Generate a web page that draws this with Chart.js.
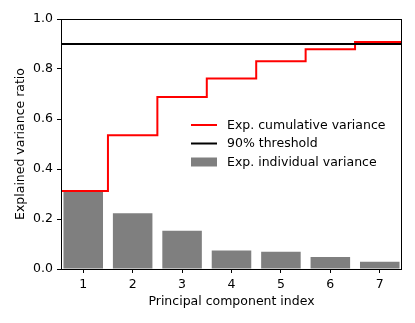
<!DOCTYPE html>
<html>
<head>
<meta charset="utf-8">
<script src="https://cdn.jsdelivr.net/npm/chart.js@4/dist/chart.umd.min.js"></script>
<style>
html,body{margin:0;padding:0;background:#fff;}
canvas{display:block;}
</style>
</head>
<body>
<canvas id="c" width="415" height="323"></canvas>
<script>
const categories = [1, 2, 3, 4, 5, 6, 7];
const individualVariance = [0.312, 0.223, 0.153, 0.074, 0.069, 0.048, 0.029];
const cumulativeVariance = [0.312, 0.535, 0.688, 0.762, 0.831, 0.879, 0.908];
const threshold = 0.9;
const yTicks = [0.0, 0.2, 0.4, 0.6, 0.8, 1.0];
const legendLabels = ['Exp. cumulative variance', '90% threshold', 'Exp. individual variance'];
const xLimits = [0.55, 7.45];

const FONT_SIZE = 12.5;
Chart.defaults.font.family = "'DejaVu Sans', sans-serif";
Chart.defaults.font.size = FONT_SIZE;
Chart.defaults.color = '#000';

const barPoints = categories.map((c, i) => ({x: c, y: individualVariance[i]}));
const stepPoints = [{x: xLimits[0], y: cumulativeVariance[0]}]
  .concat(categories.map((c, i) => ({x: c, y: cumulativeVariance[i]})))
  .concat([{x: xLimits[1], y: cumulativeVariance[cumulativeVariance.length - 1]}]);
const thresholdPoints = [{x: xLimits[0], y: threshold}, {x: xLimits[1], y: threshold}];

const BAR_COLOR = 'rgba(0,0,0,0.5)';

const framePlugin = {
  id: 'frame',
  afterDraw(chart) {
    const {ctx, chartArea: a} = chart;
    ctx.save();
    ctx.strokeStyle = '#000';
    ctx.lineWidth = 1;
    ctx.strokeRect(Math.round(a.left) + 0.5, Math.round(a.top) + 0.5,
                   Math.round(a.right - a.left) - 1, Math.round(a.bottom - a.top));
    ctx.restore();
  }
};

const legendPlugin = {
  id: 'innerLegend',
  afterDraw(chart) {
    const {ctx, chartArea: a} = chart;
    const x0 = a.left + 130, x1 = x0 + 26, tx = x0 + 36;
    const rows = [a.top + 106, a.top + 124.5, a.top + 143];
    ctx.save();
    ctx.font = FONT_SIZE + "px 'DejaVu Sans', sans-serif";
    ctx.textBaseline = 'middle';
    ctx.fillStyle = '#000';
    ctx.strokeStyle = '#ff0000'; ctx.lineWidth = 2;
    ctx.beginPath(); ctx.moveTo(x0, rows[0]); ctx.lineTo(x1, rows[0]); ctx.stroke();
    ctx.strokeStyle = '#000'; ctx.lineWidth = 2;
    ctx.beginPath(); ctx.moveTo(x0, rows[1]); ctx.lineTo(x1, rows[1]); ctx.stroke();
    ctx.fillStyle = BAR_COLOR;
    ctx.fillRect(x0, rows[2] - 4.5, x1 - x0, 9);
    ctx.fillStyle = '#000';
    legendLabels.forEach((t, i) => ctx.fillText(t, tx, rows[i] + 0.5));
    ctx.restore();
  }
};

new Chart(document.getElementById('c'), {
  type: 'bar',
  data: {
    datasets: [
      {
        type: 'line',
        label: legendLabels[1],
        data: thresholdPoints,
        borderColor: '#000',
        borderWidth: 2,
        pointRadius: 0,
        fill: false,
        order: 0
      },
      {
        type: 'line',
        label: legendLabels[0],
        data: stepPoints,
        borderColor: '#ff0000',
        borderWidth: 2,
        pointRadius: 0,
        stepped: 'middle',
        fill: false,
        order: 1
      },
      {
        type: 'bar',
        label: legendLabels[2],
        data: barPoints,
        backgroundColor: BAR_COLOR,
        borderWidth: 0,
        categoryPercentage: 1.0,
        barPercentage: 0.8,
        order: 2
      }
    ]
  },
  options: {
    responsive: false,
    animation: false,
    layout: {padding: {top: 19, right: 13, left: 0, bottom: 0}},
    plugins: {legend: {display: false}, tooltip: {enabled: false}},
    scales: {
      x: {
        type: 'linear',
        min: xLimits[0],
        max: xLimits[1],
        offset: false,
        afterBuildTicks(scale) { scale.ticks = categories.map(v => ({value: v})); },
        afterFit(scale) { scale.height = 54; },
        ticks: {padding: 4, maxRotation: 0, autoSkip: false, callback: v => String(v), color: '#000'},
        grid: {display: true, offset: false, drawOnChartArea: false, drawTicks: true, tickLength: 4, color: '#000', lineWidth: 1},
        border: {display: false},
        title: {display: true, text: 'Principal component index', color: '#000', padding: {top: 0, bottom: 14}}
      },
      y: {
        type: 'linear',
        min: 0,
        max: 1,
        afterBuildTicks(scale) { scale.ticks = yTicks.map(v => ({value: v})); },
        afterFit(scale) { scale.width = 61; },
        ticks: {padding: 4, callback: v => Number(v).toFixed(1), color: '#000'},
        grid: {display: true, drawOnChartArea: false, drawTicks: true, tickLength: 4, color: '#000', lineWidth: 1},
        border: {display: false},
        title: {display: true, text: 'Explained variance ratio', color: '#000', padding: {top: 13, bottom: 0}}
      }
    }
  },
  plugins: [framePlugin, legendPlugin]
});
</script>
</body>
</html>
